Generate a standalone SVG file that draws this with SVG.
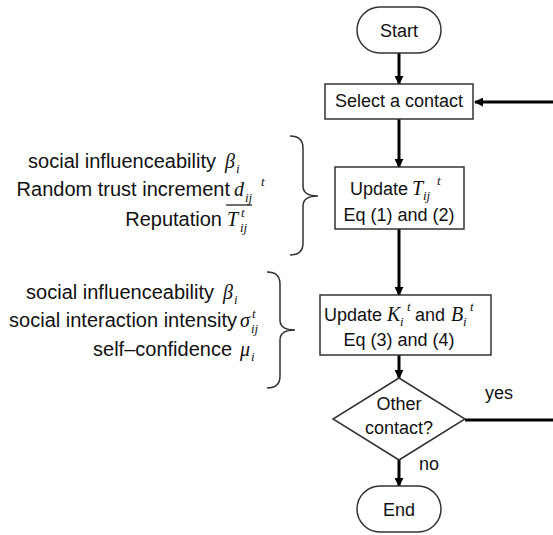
<svg xmlns="http://www.w3.org/2000/svg" width="553" height="535" viewBox="0 0 553 535">
  <style>
    .shape { fill: #ffffff; stroke: #333333; stroke-width: 1.5; }
    .conn { fill: none; stroke: #000000; stroke-width: 3; }
    .brace { fill: none; stroke: #333333; stroke-width: 1.5; }
    .lbl { font-family: "Liberation Sans", Arial, sans-serif; font-size: 18px; fill: #111111; }
    .side { font-family: "Liberation Sans", Arial, sans-serif; font-size: 20px; fill: #111111; text-anchor: end; }
    .mid { text-anchor: middle; }
    .m { font-family: "Liberation Serif", "Times New Roman", serif; font-style: italic; font-size: 20px; fill: #111111; }
    .ms { font-family: "Liberation Serif", "Times New Roman", serif; font-style: italic; font-size: 13px; }
  </style>
  <defs>
    <marker id="arrow" viewBox="0 0 10 10" refX="9" refY="5" markerWidth="9" markerHeight="9" markerUnits="userSpaceOnUse" orient="auto">
      <path d="M0,0 L10,5 L0,10 z" fill="#000000"/>
    </marker>
  </defs>

  <!-- connectors -->
  <g id="connectors">
    <line class="conn" x1="399" y1="53" x2="399" y2="84" marker-end="url(#arrow)"/>
    <line class="conn" x1="399" y1="119" x2="399" y2="167" marker-end="url(#arrow)"/>
    <line class="conn" x1="399" y1="229" x2="399" y2="295" marker-end="url(#arrow)"/>
    <line class="conn" x1="399" y1="355" x2="399" y2="378" marker-end="url(#arrow)"/>
    <line class="conn" x1="399" y1="460" x2="399" y2="486" marker-end="url(#arrow)"/>
    <path class="conn" d="M465,420 H557 V102 H475" marker-end="url(#arrow)"/>
  </g>

  <!-- flow nodes -->
  <g id="start">
    <rect class="shape" x="357" y="7" width="84" height="46" rx="23" ry="23"/>
    <text class="lbl mid" x="399" y="37">Start</text>
  </g>

  <g id="select-contact">
    <rect class="shape" x="325" y="84" width="148" height="35"/>
    <text class="lbl mid" x="399" y="107">Select a contact</text>
  </g>

  <g id="update-trust">
    <rect class="shape" x="335" y="167" width="129" height="62"/>
    <text class="lbl"><tspan x="350" y="195">Update</tspan><tspan class="m" x="412" y="195">T</tspan><tspan class="ms" x="423" y="200">ij</tspan><tspan class="ms" x="437" y="185">t</tspan></text>
    <text class="lbl mid" x="399" y="221">Eq (1) and (2)</text>
  </g>

  <g id="update-kb">
    <rect class="shape" x="320" y="295" width="171" height="60"/>
    <text class="lbl"><tspan x="324" y="321">Update</tspan><tspan class="m" x="387" y="321">K</tspan><tspan class="ms" x="400" y="326">i</tspan><tspan class="ms" x="407" y="311">t</tspan><tspan x="415" y="321">and</tspan><tspan class="m" x="451" y="321">B</tspan><tspan class="ms" x="463" y="326">i</tspan><tspan class="ms" x="470" y="311">t</tspan></text>
    <text class="lbl mid" x="399" y="346">Eq (3) and (4)</text>
  </g>

  <g id="other-contact">
    <polygon class="shape" points="399,378 465,419 399,460 333,419"/>
    <text class="lbl mid" x="399" y="410">Other</text>
    <text class="lbl mid" x="399" y="434">contact?</text>
  </g>

  <g id="end">
    <rect class="shape" x="357" y="486" width="84" height="46" rx="23" ry="23"/>
    <text class="lbl mid" x="399" y="516">End</text>
  </g>

  <!-- branch labels -->
  <text class="lbl" x="485" y="399">yes</text>
  <text class="lbl" x="419" y="470">no</text>

  <!-- inputs to the trust update -->
  <g id="trust-inputs">
    <path class="brace" d="M290,136 Q303,136 303,148 V186 Q303,196 318,196 Q303,196 303,206 V243 Q303,255 290,255"/>
    <text class="side" x="216" y="168">social influenceability</text>
    <text class="m"><tspan x="225" y="168">β</tspan><tspan class="ms" x="236" y="173">i</tspan></text>

    <text class="side" x="230" y="196">Random trust increment</text>
    <text class="m"><tspan x="234" y="196">d</tspan><tspan class="ms" x="245" y="202">ij</tspan><tspan class="ms" x="261" y="186">t</tspan></text>

    <text class="side" x="222" y="226">Reputation</text>
    <line x1="226" y1="205" x2="252" y2="205" stroke="#111111" stroke-width="1.2"/>
    <text class="m"><tspan x="227" y="226">T</tspan><tspan class="ms" x="241" y="217">t</tspan><tspan class="ms" x="240" y="232">ij</tspan></text>
  </g>

  <!-- inputs to the K and B update -->
  <g id="kb-inputs">
    <path class="brace" d="M267,272 Q280,272 280,284 V320 Q280,330 295,330 Q280,330 280,340 V376 Q280,388 267,388"/>
    <text class="side" x="214" y="299">social influenceability</text>
    <text class="m"><tspan x="223" y="299">β</tspan><tspan class="ms" x="234" y="304">i</tspan></text>

    <text class="side" x="237" y="327">social interaction intensity</text>
    <text class="m"><tspan x="240" y="327">σ</tspan><tspan class="ms" x="252" y="318">t</tspan><tspan class="ms" x="251" y="333">ij</tspan></text>

    <text class="side" x="232" y="356">self–confidence</text>
    <text class="m"><tspan x="240" y="356">μ</tspan><tspan class="ms" x="251" y="361">i</tspan></text>
  </g>
</svg>
